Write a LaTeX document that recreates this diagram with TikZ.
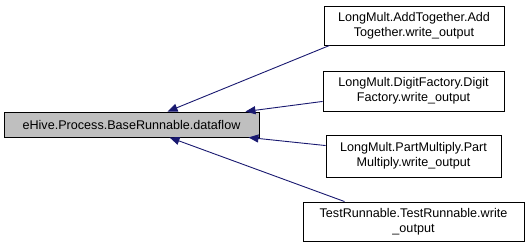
\documentclass[tikz,border=0pt]{standalone}
\usepackage{fontspec}
\setmainfont{Liberation Sans}
\usetikzlibrary{arrows.meta}
\definecolor{edgeblue}{HTML}{191970}
\definecolor{basegray}{HTML}{BFBFBF}
\begin{document}
\begin{tikzpicture}[x=1pt,y=-1pt,
  box/.style={draw=black,line width=0.9pt,inner sep=0pt,align=center,
    font=\fontsize{12.6}{15}\selectfont},
  dep/.style={draw=edgeblue,line width=0.9pt,
    -{Triangle[length=10pt,width=8pt]},color=edgeblue}]
  \useasboundingbox (0,0) rectangle (529,248);
  % the function whose callers are shown
  \node[box,fill=basegray,minimum width=255pt,minimum height=25pt]
    (base) at (131.5,124.5) {eHive.Process.BaseRunnable.dataflow};
  % callers
  \node[box,fill=white,minimum width=180pt,minimum height=39pt]
    (b1) at (414,25.5) {LongMult.AddTogether.Add\\Together.write\_output};
  \node[box,fill=white,minimum width=181pt,minimum height=40pt]
    (b2) at (413.5,91) {LongMult.DigitFactory.Digit\\Factory.write\_output};
  \node[box,fill=white,minimum width=175pt,minimum height=42pt]
    (b3) at (413.5,156) {LongMult.PartMultiply.Part\\Multiply.write\_output};
  \node[box,fill=white,minimum width=221pt,minimum height=39pt]
    (b4) at (413.5,221.5) {TestRunnable.TestRunnable.write\\\_output};
  % call edges
  \draw[dep] ([xshift=6pt]b1.south west) -- ([xshift=164pt]base.north west);
  \draw[dep] ([yshift=10pt]b2.south west) -- ([xshift=-14pt]base.north east);
  \draw[dep] ([yshift=-11pt]b3.north west) -- ([xshift=-11pt]base.south east);
  \draw[dep] ([xshift=42pt]b4.north west) -- ([xshift=166pt]base.south west);
\end{tikzpicture}
\end{document}
